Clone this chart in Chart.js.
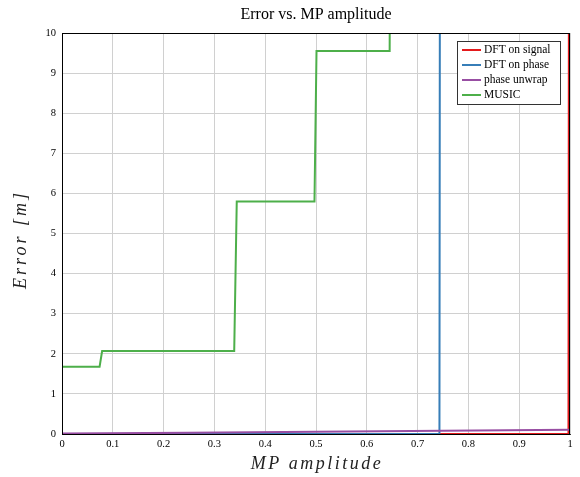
<!DOCTYPE html>
<html>
<head>
<meta charset="utf-8">
<script src="https://cdn.jsdelivr.net/npm/chart.js@4/dist/chart.umd.min.js"></script>
<style>
html,body{margin:0;padding:0;background:#fff;}
#wrap{width:580px;height:477px;position:relative;}
</style>
</head>
<body>
<div id="wrap"><canvas id="c" width="580" height="477"></canvas></div>
<script>
const seriesNames = ["DFT on signal", "DFT on phase", "phase unwrap", "MUSIC"];
const seriesColors = ["#e41a1c", "#377eb8", "#984ea3", "#4daf4a"];
// MP amplitude (x) and Error (y) breakpoints for each series
const dftSignalX = [0, 0.997, 0.9985];
const dftSignalY = [0, 0.005, 20];
const dftPhaseX = [0, 0.743, 0.7445];
const dftPhaseY = [0, 0.004, 20];
const unwrapX = [0, 0.25, 0.5, 0.75, 1.0];
const unwrapY = [0.01, 0.03, 0.055, 0.08, 0.105];
const musicX = [0, 0.074, 0.079, 0.339, 0.344, 0.497, 0.501, 0.645, 0.6475];
const musicY = [1.68, 1.68, 2.07, 2.07, 5.8, 5.8, 9.55, 9.55, 20];
const xTicks = [0, 0.1, 0.2, 0.3, 0.4, 0.5, 0.6, 0.7, 0.8, 0.9, 1];
const yTicks = [0, 1, 2, 3, 4, 5, 6, 7, 8, 9, 10];
const titleText = "Error vs. MP amplitude";
const xTitle = "MP amplitude";
const yTitle = "Error [m]";

const pts = (xs, ys) => xs.map((x, i) => ({x: x, y: ys[i]}));
const allX = [dftSignalX, dftPhaseX, unwrapX, musicX];
const allY = [dftSignalY, dftPhaseY, unwrapY, musicY];

const datasets = seriesNames.map((n, i) => ({
  label: n,
  data: pts(allX[i], allY[i]),
  borderColor: seriesColors[i],
  backgroundColor: seriesColors[i],
  borderWidth: 2,
  pointRadius: 0,
  tension: 0,
  fill: false,
  order: 3 - i
}));

const serif = "'Liberation Serif', 'DejaVu Serif', serif";

const decor = {
  id: 'decor',
  afterDraw(chart) {
    const ctx = chart.ctx;
    const a = chart.chartArea;
    ctx.save();
    // frame
    ctx.strokeStyle = '#000';
    ctx.lineWidth = 1;
    ctx.strokeRect(a.left + 0.5, a.top + 0.5, a.right - a.left - 1, a.bottom - a.top);
    // title
    ctx.fillStyle = '#000';
    ctx.font = "16px " + serif;
    ctx.textAlign = 'center';
    ctx.textBaseline = 'middle';
    ctx.fillText(titleText, (a.left + a.right) / 2, 15);
    // axis titles
    ctx.fillStyle = '#222';
    ctx.font = "italic 18px " + serif;
    ctx.letterSpacing = '2.5px';
    ctx.fillText(xTitle, (a.left + a.right) / 2 + 1, 464);
    ctx.save();
    ctx.translate(21, (a.top + a.bottom) / 2 + 6);
    ctx.rotate(-Math.PI / 2);
    ctx.letterSpacing = '3px';
    ctx.fillText(yTitle, 0, 0);
    ctx.restore();
    ctx.letterSpacing = '0px';
    // legend
    const lx = 457, ly = 41, lw = 103, lh = 63;
    ctx.fillStyle = '#fff';
    ctx.fillRect(lx, ly, lw, lh);
    ctx.strokeStyle = '#333';
    ctx.lineWidth = 1;
    ctx.strokeRect(lx + 0.5, ly + 0.5, lw, lh);
    ctx.font = "11.5px " + serif;
    ctx.textAlign = 'left';
    ctx.textBaseline = 'middle';
    seriesNames.forEach((n, i) => {
      const y = ly + 9 + i * 15;
      ctx.strokeStyle = seriesColors[i];
      ctx.lineWidth = 2;
      ctx.beginPath();
      ctx.moveTo(lx + 5, y);
      ctx.lineTo(lx + 24, y);
      ctx.stroke();
      ctx.fillStyle = '#000';
      ctx.fillText(n, lx + 27, y);
    });
    ctx.restore();
  }
};

new Chart(document.getElementById('c'), {
  type: 'line',
  data: { datasets: datasets },
  options: {
    responsive: false,
    animation: false,
    devicePixelRatio: 1,
    layout: { padding: { top: 33, right: 10, left: 0, bottom: 0 } },
    plugins: { legend: { display: false }, tooltip: { enabled: false }, title: { display: false } },
    scales: {
      x: {
        type: 'linear', min: 0, max: 1,
        afterBuildTicks: s => { s.ticks = xTicks.map(v => ({value: v})); },
        afterFit: s => { s.height = 43; },
        grid: { color: '#d0d0d0', lineWidth: 1, drawTicks: false },
        border: { color: '#333', width: 1 },
        ticks: { color: '#000', font: { family: serif, size: 10.5 }, padding: 4, maxRotation: 0,
          callback: v => String(v) },
        title: { display: false }
      },
      y: {
        type: 'linear', min: 0, max: 10,
        afterBuildTicks: s => { s.ticks = yTicks.map(v => ({value: v})); },
        afterFit: s => { s.width = 62; },
        grid: { color: '#d0d0d0', lineWidth: 1, drawTicks: false },
        border: { color: '#333', width: 1 },
        ticks: { color: '#000', font: { family: serif, size: 10.5 }, padding: 6,
          callback: v => String(v) },
        title: { display: false }
      }
    }
  },
  plugins: [decor]
});
</script>
</body>
</html>
